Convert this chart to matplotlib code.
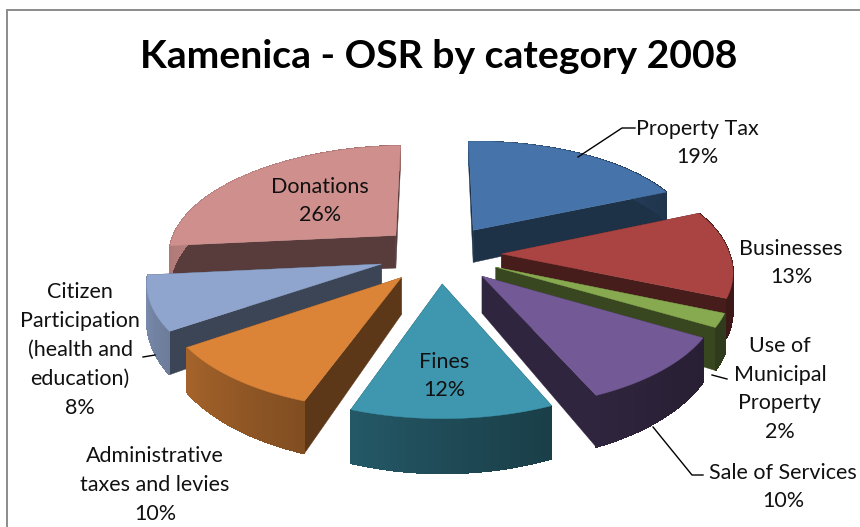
import numpy as np
import matplotlib
matplotlib.use('Agg')
import matplotlib.pyplot as plt
from matplotlib.patches import Polygon, Rectangle
import matplotlib.colors as mcolors

# Data
categories = ['Property Tax', 'Businesses', 'Use of\nMunicipal\nProperty', 'Sale of Services', 'Fines',
              'Administrative\ntaxes and levies', 'Citizen\nParticipation\n(health and\neducation)', 'Donations']
values = [19, 13, 2, 10, 12, 10, 8, 26]
colors = ['#4674AA', '#A94442', '#87A94F', '#735995', '#3E97AF', '#DB8438', '#90A5CD', '#CE8F8D']
title = 'Kamenica - OSR by category 2008'

# label centre in pixels
label_pos = [(697, 143), (791, 263), (780, 389), (783, 487), (444, 376), (155, 485), (80, 350), (320, 201)]
# leader lines, pixels
leaders = [[(635, 128), (622, 128), (578, 157)],
           [(155, 355), (143, 357)],
           [(727, 379), (712, 375)],
           [(703, 475), (692, 475), (653, 427)]]

# projection of the pie
cx, cy = 440, 254
Rx, Ry = 228, 107
persp = 0.1375
explode = 0.27
depth = 34.6
rotation = np.radians(-2)
back_shift = 6  # back of the pie sits a little to the right


def project(x, y, z=0):
    w = 1 - persp * y
    return cx + Rx * x / w + back_shift * max(-y, 0), cy + Ry * y / w + depth * z / w ** 2.4


def slice_outline(a0, a1, z=0):
    mid = (a0 + a1) / 2
    ox, oy = explode * np.sin(mid), -explode * np.cos(mid)
    t = np.linspace(a0, a1, max(int((a1 - a0) * 80), 4))
    rim = [project(ox + np.sin(a), oy - np.cos(a), z) for a in t]
    return project(ox, oy, z), rim


fig = plt.figure(figsize=(8.6, 5.27), dpi=100)
ax = fig.add_axes([0, 0, 1, 1])
ax.set_xlim(0, 860)
ax.set_ylim(527, 0)
ax.axis('off')
ax.add_patch(Rectangle((7, 10), 900, 600, fc='white', ec='#8c8c8c', lw=1.4))

frac = np.array(values) / sum(values)
edges = np.concatenate([[0], np.cumsum(frac)]) * 2 * np.pi + rotation
mids = (edges[:-1] + edges[1:]) / 2

# painter's order, back slices first
order = np.argsort(-np.cos(mids))
for i in order:
    a0, a1 = edges[i], edges[i + 1]
    c = np.array(mcolors.to_rgb(colors[i]))
    apex, rim = slice_outline(a0, a1)
    apex_b, rim_b = slice_outline(a0, a1, 1)
    dark = c * 0.42
    # inner walls
    for k in (0, -1):
        ax.add_patch(Polygon([apex, rim[k], rim_b[k], apex_b], fc=dark, ec=dark, lw=0.3, zorder=1))
    # outer wall, lit from the left
    for k in range(len(rim) - 1):
        ang = a0 + (a1 - a0) * k / (len(rim) - 1)
        shade = 0.62 - 0.24 * np.sin(ang) + 0.12 * np.cos(ang)
        col = np.clip(c * shade, 0, 1)
        ax.add_patch(Polygon([rim[k], rim[k + 1], rim_b[k + 1], rim_b[k]], fc=col, ec=col, lw=0.5,
                             antialiased=False, zorder=1))
    ax.add_patch(Polygon([apex] + rim, fc=c, ec=c, lw=0.3, zorder=1))

font = 'Lato'
ax.text(439, 57, title, ha='center', va='center', fontsize=28.2, fontweight='bold', family=font, color='black')
for name, v, (lx, ly) in zip(categories, values, label_pos):
    ax.text(lx, ly, f'{name}\n{v}%', ha='center', va='center', fontsize=15.5, family=font,
            color='#111111', linespacing=1.55, zorder=3)
for pts in leaders:
    xs, ys = zip(*pts)
    ax.plot(xs, ys, color='black', lw=1, zorder=2)

fig.savefig('out.png', dpi=100)
